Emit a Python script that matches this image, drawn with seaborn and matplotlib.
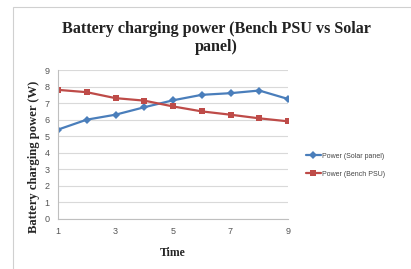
import matplotlib
matplotlib.use("Agg")
import matplotlib.pyplot as plt
import seaborn as sns
import pandas as pd
from matplotlib.patches import Rectangle

time = [1, 2, 3, 4, 5, 6, 7, 8, 9]
solar = [5.4, 6.0, 6.3, 6.75, 7.17, 7.5, 7.6, 7.76, 7.25]
bench = [7.8, 7.66, 7.3, 7.15, 6.8, 6.5, 6.3, 6.08, 5.9]
series_names = ["Power (Solar panel)", "Power (Bench PSU)"]
xticks = [1, 3, 5, 7, 9]
yticks = [0, 1, 2, 3, 4, 5, 6, 7, 8, 9]

df = pd.DataFrame({
    "Time": time * 2,
    "Power": solar + bench,
    "Series": [series_names[0]] * len(time) + [series_names[1]] * len(time),
})

sns.set_style("white")
plt.rcParams['font.family'] = ['Liberation Serif', 'DejaVu Serif']

fig = plt.figure(figsize=(4.11, 2.69), dpi=100)
fig.patches.append(Rectangle((13 / 411, -0.01), 1.0, 1 - 7 / 269 + 0.01,
                             transform=fig.transFigure, fill=False,
                             edgecolor="#D0D0D0", linewidth=0.8))
ax = fig.add_axes([58 / 411, 1 - 219 / 269, 230 / 411, 149 / 269])

palette = {series_names[0]: "#4A7EBB", series_names[1]: "#BE4B48"}
markers = {series_names[0]: "D", series_names[1]: "s"}
sns.lineplot(data=df, x="Time", y="Power", hue="Series", style="Series",
             palette=palette, markers=markers, dashes=False, ax=ax,
             linewidth=1.6, markersize=4.5, markeredgewidth=0)
for line in ax.lines:
    if line.get_marker() == "D":
        line.set_markersize(3.8)

ax.set_xlim(1, 9)
ax.set_ylim(0, 9)
ax.set_xticks(xticks)
ax.set_yticks(yticks)
ax.yaxis.grid(True, color="#D9D9D9", linewidth=0.8)
ax.xaxis.grid(False)
ax.set_axisbelow(True)
for s in ["top", "right"]:
    ax.spines[s].set_visible(False)
for s in ["left", "bottom"]:
    ax.spines[s].set_color("#BFBFBF")
    ax.spines[s].set_linewidth(0.8)
ax.tick_params(axis="both", length=0, labelsize=6.5, labelcolor="#555555", pad=6)
for lab in ax.get_xticklabels() + ax.get_yticklabels():
    lab.set_fontfamily("Liberation Sans")

ax.set_xlabel("Time", fontsize=8.5, fontweight="bold", labelpad=8)
ax.set_ylabel("Battery charging power (W)", fontsize=9.1, fontweight="bold")
ax.yaxis.set_label_coords(-18 / 230, 0.42)
fig.text(216 / 411, 1 - 38 / 269, "Battery charging power (Bench PSU vs Solar\npanel)",
         ha="center", va="center", fontsize=11.6, fontweight="bold",
         color="#222222", linespacing=1.15)

leg = ax.legend(loc="center left", bbox_to_anchor=(1.05, 0.36), frameon=False,
                fontsize=5, handlelength=2.2, handletextpad=0.2, labelspacing=1.6)
for t in leg.get_texts():
    t.set_fontfamily("Liberation Sans")
    t.set_color("#444444")

fig.savefig("out.png", dpi=100)
